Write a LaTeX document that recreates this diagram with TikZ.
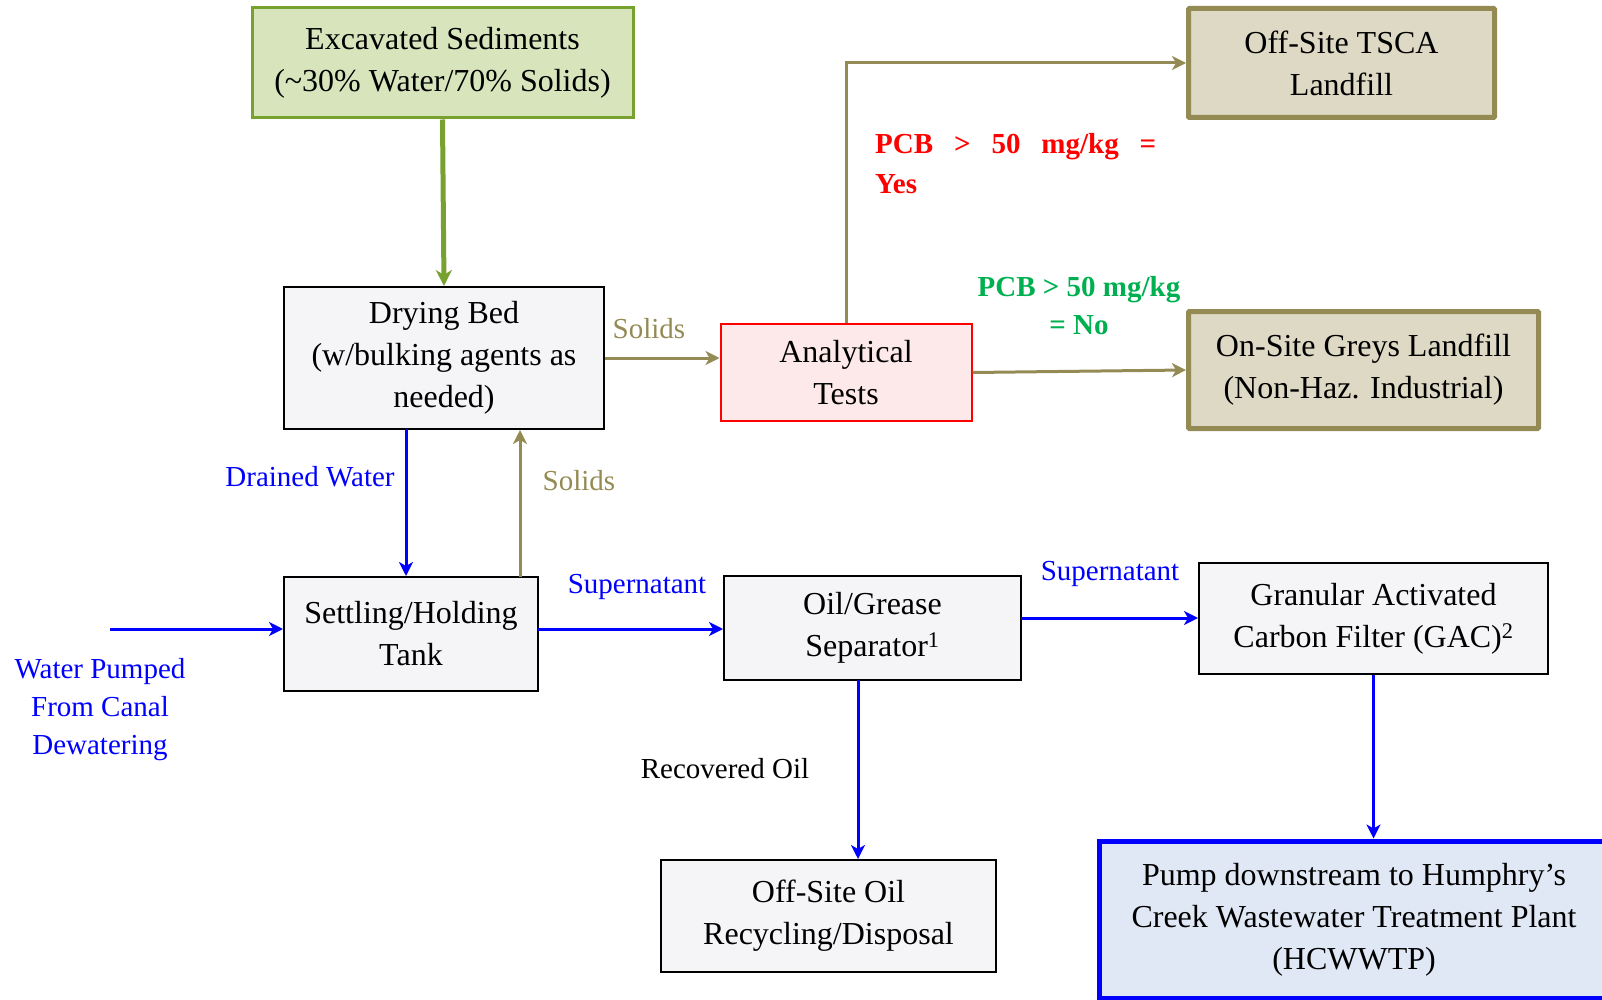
\documentclass[tikz,border=0pt]{standalone}
\usepackage{fontspec}
\setmainfont{Liberation Serif}
\usetikzlibrary{arrows.meta}
\definecolor{exgreen}{HTML}{77A22F}
\definecolor{exfill}{HTML}{D8E4BC}
\definecolor{tanline}{HTML}{948A54}
\definecolor{tanfill}{HTML}{DDD9C4}
\definecolor{redfill}{HTML}{FDE9E9}
\definecolor{boxfill}{HTML}{F5F4F7}
\definecolor{pumpfill}{HTML}{E1E8F5}
\definecolor{pcbgreen}{HTML}{00B050}
\definecolor{pureblue}{HTML}{0000FF}
\definecolor{purered}{HTML}{FF0000}
\begin{document}
\begin{tikzpicture}[x=1pt,y=-1pt,
  boxtext/.style={font=\fontsize{32}{42}\selectfont, align=center, inner sep=0pt},
  plainbox/.style={boxtext, draw=black, line width=2pt, fill=boxfill},
  greenbox/.style={boxtext, draw=exgreen, line width=3pt, fill=exfill},
  redbox/.style={boxtext, draw=purered, line width=2pt, fill=redfill},
  tanbox/.style={boxtext, draw=tanline, line width=5pt, fill=tanfill, rounded corners=1pt},
  pumpbox/.style={boxtext, draw=pureblue, line width=5pt, fill=pumpfill},
  lbl/.style={font=\fontsize{29}{38}\selectfont, align=center, inner sep=0pt},
  tip/.style={-{Stealth[length=14pt,width=14pt,inset=4pt]}},
  bluearr/.style={tip, draw=pureblue, line width=3pt},
  tanarr/.style={tip, draw=tanline, line width=3pt},
  greenarr/.style={-{Stealth[length=16pt,width=16pt,inset=5pt]}, draw=exgreen, line width=5pt}
]
\useasboundingbox (0,0) rectangle (1602,1000);

% boxes
\node[greenbox, minimum width=381, minimum height=110] (exc) at (442.5,63)
  {Excavated Sediments\\(\textasciitilde30\% Water/70\% Solids)};
\node[plainbox, minimum width=320, minimum height=142] (dry) at (444,358)
  {Drying Bed\\(w/bulking agents as\\needed)};
\node[redbox, minimum width=251, minimum height=97] (ana) at (846,372.5)
  {Analytical\\Tests};
\node[tanbox, minimum width=306, minimum height=109] (tsca) at (1341.5,63)
  {Off-Site TSCA\\Landfill};
\node[tanbox, minimum width=350, minimum height=117] (ons) at (1363.5,370)
  {On-Site Greys Landfill\\(Non-Haz. Industrial)};
\node[plainbox, minimum width=254, minimum height=114] (set) at (411,634)
  {Settling/Holding\\Tank};
\node[plainbox, minimum width=297, minimum height=104] (oil) at (872.5,628)
  {Oil/Grease\\Separator\textsuperscript{1}};
\node[plainbox, minimum width=349, minimum height=111] (gac) at (1373.5,618.5)
  {Granular Activated\\Carbon Filter (GAC)\textsuperscript{2}};
\node[plainbox, minimum width=335, minimum height=112] (off) at (828.5,916)
  {Off-Site Oil\\Recycling/Disposal};
\node[pumpbox, minimum width=510, minimum height=157] (pump) at (1354,919.5)
  {Pump downstream to Humphry’s\\Creek Wastewater Treatment Plant\\(HCWWTP)};

% helper coordinates
\coordinate (drain) at (406,429);
\coordinate (solup) at (520,577);
\coordinate (winflow) at (110,629);
\coordinate (setout) at (538,629);
\coordinate (oilout) at (1021,618);
\coordinate (oilbot) at (858,680);

% connectors
\draw[greenarr] (exc.south) -- (dry.north);
\draw[tanarr] (dry.east) -- (dry.east -| ana.west);
\draw[tanarr] (ana.north) |- (tsca.west);
\draw[tanarr] (ana.east) -- (ons.west);
\draw[bluearr] (drain) -- (drain |- set.north);
\draw[tanarr] (solup) -- (solup |- dry.south);
\draw[bluearr] (winflow) -- (winflow -| set.west);
\draw[bluearr] (setout) -- (setout -| oil.west);
\draw[bluearr] (oilout) -- (oilout -| gac.west);
\draw[bluearr] (oilbot) -- (oilbot |- off.north);
\draw[bluearr] (gac.south) -- (gac.south |- pump.north);

% labels
\node[lbl, text=tanline] (lsol1) at (649,329) {Solids};
\node[lbl, text=tanline] (lsol2) at (579,481) {Solids};
\node[lbl, text=pureblue] (ldrain) at (310,477) {Drained Water};
\node[lbl, text=pureblue] (lsup1) at (637,587) {Supernatant};
\node[lbl, text=pureblue] (lsup2) at (1110,574) {Supernatant};
\node[lbl, text=pureblue] (lwater) at (100,710) {Water Pumped\\From Canal\\Dewatering};
\node[lbl, text=black] (lrec) at (725,769) {Recovered Oil};
\node[lbl, text=purered, font=\fontsize{29}{40}\selectfont\bfseries, align=left, anchor=west] (lyes) at (875,164)
  {\makebox[281pt][s]{PCB > 50 mg/kg =}\\Yes};
\node[lbl, text=pcbgreen, font=\fontsize{29}{38}\selectfont\bfseries] (lno) at (1079,306)
  {PCB > 50 mg/kg\\= No};
\end{tikzpicture}
\end{document}
